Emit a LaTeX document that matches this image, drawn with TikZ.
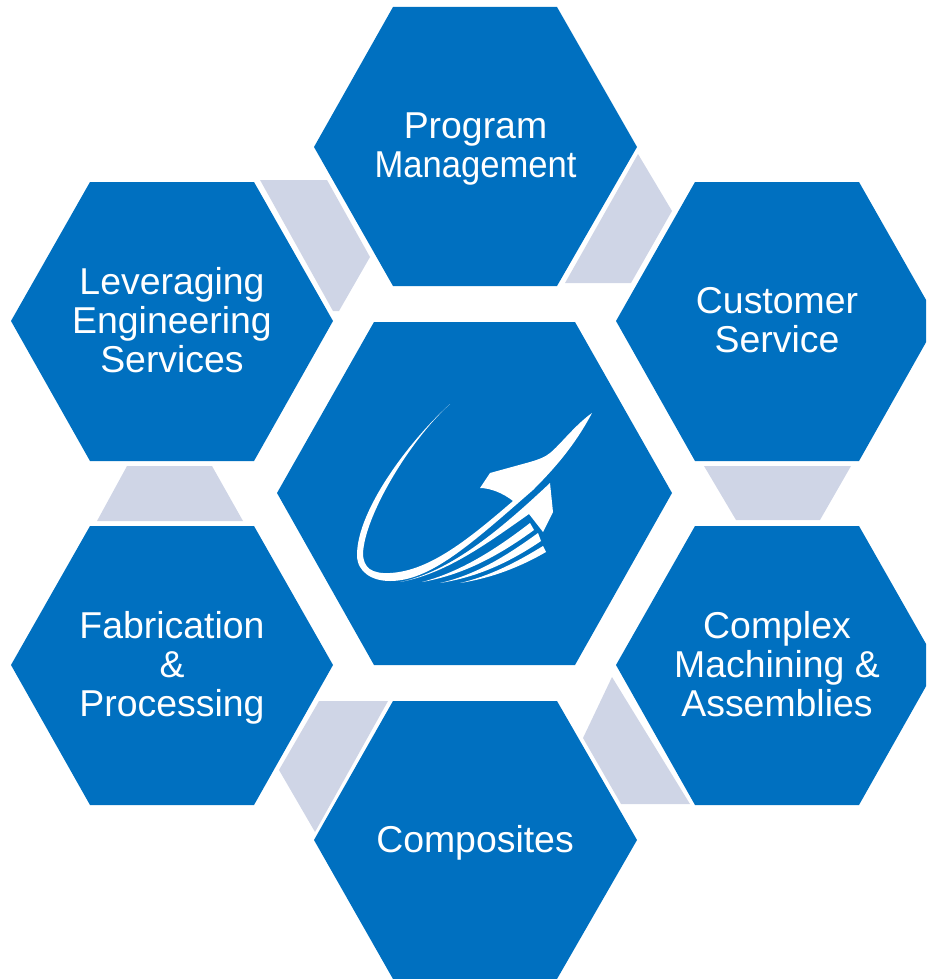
\documentclass[tikz,border=0pt]{standalone}
\usepackage{fontspec}
\setmainfont{Liberation Sans}
\definecolor{hexblue}{HTML}{0070C0}
\definecolor{linkgrey}{HTML}{CFD5E6}
\tikzset{
  hexfill/.style={fill=hexblue,draw=none},
  linkfill/.style={fill=linkgrey,draw=none},
  logofill/.style={fill=white,draw=none},
  hexlabel/.style={text=white,align=center,inner sep=0pt,font=\fontsize{37.4}{38.8}\selectfont}
}
\begin{document}
\begin{tikzpicture}[x=1pt,y=-1pt]
\useasboundingbox (0,0) rectangle (926,979);
\clip (0,0) rectangle (926,979);
% links
\fill[linkfill] (260,180) -- (327,180) -- (370,257) -- (339,311) -- (333,311) -- cycle;
\fill[linkfill] (638,154) -- (672,211) -- (631,283) -- (565,283) -- cycle;
\fill[linkfill] (704,466) -- (851,466) -- (820,520) -- (736,520) -- cycle;
\fill[linkfill] (612,677) -- (690,804) -- (621,804) -- (583,738) -- cycle;
\fill[linkfill] (319,701) -- (388,701) -- (315,832) -- (279,770) -- cycle;
\fill[linkfill] (127,466) -- (212,466) -- (243,521) -- (97,521) -- cycle;
% hexagons
\fill[hexfill] (314,147) -- (393,7) -- (557,7) -- (637,147) -- (557,286) -- (393,286) -- cycle;
\fill[hexfill] (11,321) -- (90,182) -- (254,182) -- (333,321) -- (254,461) -- (90,461) -- cycle;
\fill[hexfill] (616,321) -- (695,182) -- (859,182) -- (938,321) -- (859,461) -- (695,461) -- cycle;
\fill[hexfill] (616,665) -- (695,526) -- (859,526) -- (938,665) -- (859,805) -- (695,805) -- cycle;
\fill[hexfill] (11,665) -- (90,526) -- (254,526) -- (333,665) -- (254,805) -- (90,805) -- cycle;
\fill[hexfill] (314,840) -- (393,701) -- (557,701) -- (637,840) -- (557,979) -- (393,979) -- cycle;
\fill[hexfill] (277,493) -- (374,322) -- (575,322) -- (672,493) -- (575,665) -- (374,665) -- cycle;
% logo
\fill[logofill] (450,404) .. controls (410,440) and (357,510) .. (357,555)
  .. controls (357,572) and (372,581) .. (390,581)
  .. controls (430,581) and (470,545) .. (533,490)
  .. controls (555,468) and (575,445) .. (592,413)
  .. controls (575,425) and (560,445) .. (550,453)
  .. controls (545,457) and (540,459) .. (530,462)
  -- (490,473) -- (480,488)
  .. controls (490,488) and (503,493) .. (513,501)
  .. controls (470,538) and (430,571) .. (390,573)
  .. controls (372,574) and (363,568) .. (363,553)
  .. controls (365,515) and (410,440) .. (450,404) -- cycle;
\fill[logofill] (550,483) .. controls (500,530) and (450,572) .. (400,582)
  .. controls (445,574) and (485,545) .. (529,514)
  -- (543,532) -- (553,512) -- cycle;
\fill[logofill] (422,582) .. controls (460,572) and (495,550) .. (530,523)
  -- (534,530) .. controls (497,557) and (462,575) .. (422,582) -- cycle;
\fill[logofill] (440,583) .. controls (475,575) and (505,557) .. (538,533)
  -- (541,541) .. controls (510,562) and (478,577) .. (440,583) -- cycle;
\fill[logofill] (460,583) .. controls (490,576) and (517,562) .. (543,546)
  -- (546,552) .. controls (520,567) and (492,578) .. (460,583) -- cycle;
% labels
\node[hexlabel] (program) at (475.5,149) {Program\\\scalebox{0.925}[1]{Management}};
\node[hexlabel] (leverage) at (172,320) {Leveraging\\Engineering\\Services};
\node[hexlabel] (customer) at (777,320) {Customer\\Service};
\node[hexlabel] (complex) at (777,664) {Complex\\Machining \&\\Assemblies};
\node[hexlabel] (fabrication) at (172,668) {Fabrication\\\&\\Processing};
\node[hexlabel] (composites) at (475,843) {Composites};
\end{tikzpicture}
\end{document}
